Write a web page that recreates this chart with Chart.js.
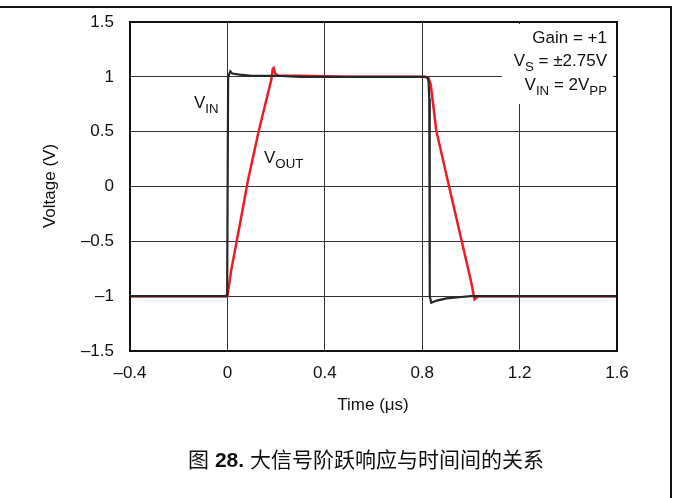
<!DOCTYPE html>
<html>
<head>
<meta charset="utf-8">
<script src="https://cdn.jsdelivr.net/npm/chart.js@4.4.0/dist/chart.umd.min.js"></script>
<style>
  body { margin: 0; background: #fff; }
  #wrap { width: 673px; height: 498px; }
</style>
</head>
<body>
<div id="wrap"><canvas id="stepChart" width="673" height="498"></canvas></div>
<script>
// time in us, voltage in V
const vinTime = [-0.4, -0.2, -0.005, -0.001, 0.003, 0.012, 0.02, 0.05, 0.1, 0.2, 0.3, 0.4, 0.5, 0.6, 0.7, 0.8, 0.815, 0.822, 0.826, 0.829, 0.831, 0.837, 0.86, 0.9, 0.95, 1.0, 1.2, 1.4, 1.6];
const vinVolt = [-1.0, -1.0, -1.0, -0.98, 1.0, 1.05, 1.03, 1.02, 1.01, 1.01, 1.0, 1.0, 1.0, 1.0, 1.0, 1.0, 1.0, 0.99, 0.96, 0.8, -1.0, -1.06, -1.04, -1.02, -1.01, -1.0, -1.0, -1.0, -1.0];

const voutTime = [-0.4, -0.2, 0.0, 0.016, 0.05, 0.084, 0.128, 0.18, 0.186, 0.19, 0.196, 0.21, 0.3, 0.5, 0.7, 0.81, 0.826, 0.835, 0.845, 0.857, 0.9, 0.95, 1.0, 1.015, 1.03, 1.1, 1.3, 1.6];
const voutVolt = [-1.0, -1.0, -1.0, -0.76, -0.36, 0.05, 0.5, 0.97, 1.07, 1.08, 1.03, 1.01, 1.01, 1.0, 1.0, 1.0, 0.99, 0.93, 0.75, 0.52, 0.1, -0.38, -0.86, -1.03, -1.0, -1.0, -1.0, -1.0];

const xTicks = [-0.4, 0, 0.4, 0.8, 1.2, 1.6];
const yTicks = [-1.5, -1, -0.5, 0, 0.5, 1, 1.5];

const notes = [
  [["Gain = +1", false]],
  [["V", false], ["S", true], [" = \u00b12.75V", false]],
  [["V", false], ["IN", true], [" = 2V", false], ["PP", true]]
];

function toPoints(xs, ys) {
  return xs.map((x, i) => ({ x: x, y: ys[i] }));
}

function fmt(v) {
  let s = String(v);
  return s.replace("-", "\u2013");
}

const FONT = "'Liberation Sans', Arial, sans-serif";

// draw text with subscripts; align 'left' or 'right' at x
function drawSub(ctx, parts, x, y, size, align) {
  let total = 0;
  parts.forEach(p => {
    ctx.font = (p[1] ? size * 0.78 : size) + "px " + FONT;
    total += ctx.measureText(p[0]).width;
  });
  let cx = align === "right" ? x - total : x;
  ctx.textAlign = "left";
  ctx.textBaseline = "alphabetic";
  parts.forEach(p => {
    ctx.font = (p[1] ? size * 0.78 : size) + "px " + FONT;
    ctx.fillText(p[0], cx, p[1] ? y + 5 : y);
    cx += ctx.measureText(p[0]).width;
  });
}

const extras = {
  id: "extras",
  afterDraw(chart) {
    const ctx = chart.ctx;
    const a = chart.chartArea;
    ctx.save();

    // notes box
    ctx.fillStyle = "#fff";
    ctx.fillRect(502, 24, 111, 80);

    // plot border
    ctx.strokeStyle = "#111";
    ctx.lineWidth = 2;
    ctx.strokeRect(a.left, a.top, a.right - a.left, a.bottom - a.top);

    // page frame
    ctx.beginPath();
    ctx.moveTo(0, 7);
    ctx.lineTo(671, 7);
    ctx.lineTo(671, 498);
    ctx.stroke();

    ctx.fillStyle = "#111";
    drawSub(ctx, notes[0], 607, 43, 17, "right");
    drawSub(ctx, notes[1], 607, 66, 17, "right");
    drawSub(ctx, notes[2], 607, 90, 17, "right");

    // trace labels
    drawSub(ctx, [["V", false], ["IN", true]], 194, 108, 17, "left");
    drawSub(ctx, [["V", false], ["OUT", true]], 264, 163, 17, "left");

    // axis titles
    ctx.font = "17px " + FONT;
    ctx.textAlign = "center";
    ctx.textBaseline = "middle";
    ctx.fillText("Time (\u03bcs)", 373, 405);
    ctx.save();
    ctx.translate(50, 186);
    ctx.rotate(-Math.PI / 2);
    ctx.fillText("Voltage (V)", 0, 0);
    ctx.restore();

    // caption
    const cap = [["图 ", "normal"], ["28.", "bold"], [" 大信号阶跃响应与时间间的关系", "normal"]];
    const capFont = w => w + " 21px 'Liberation Sans', 'Noto Sans CJK SC', sans-serif";
    let tw = 0;
    cap.forEach(c => { ctx.font = capFont(c[1]); tw += ctx.measureText(c[0]).width; });
    let cx = 366 - tw / 2;
    ctx.textAlign = "left";
    ctx.textBaseline = "middle";
    cap.forEach(c => {
      ctx.font = capFont(c[1]);
      ctx.fillText(c[0], cx, 461);
      cx += ctx.measureText(c[0]).width;
    });

    ctx.restore();
  }
};

new Chart(document.getElementById("stepChart"), {
  type: "scatter",
  data: {
    datasets: [
      {
        label: "VIN",
        data: toPoints(vinTime, vinVolt),
        showLine: true,
        borderColor: "#262626",
        borderWidth: 2.2,
        pointRadius: 0,
        tension: 0,
        order: 0
      },
      {
        label: "VOUT",
        data: toPoints(voutTime, voutVolt),
        showLine: true,
        borderColor: "#ec1c24",
        borderWidth: 2.5,
        pointRadius: 0,
        tension: 0,
        order: 1
      }
    ]
  },
  options: {
    responsive: false,
    animation: false,
    layout: { padding: { top: 22, right: 56, left: 0, bottom: 0 } },
    plugins: {
      legend: { display: false },
      tooltip: { enabled: false }
    },
    scales: {
      x: {
        type: "linear",
        min: -0.4,
        max: 1.6,
        afterFit: s => { s.height = 147; s.paddingLeft = 0; s.paddingRight = 0; },
        afterBuildTicks: s => { s.ticks = xTicks.map(v => ({ value: v })); },
        border: { display: false },
        grid: { color: "#333", lineWidth: 1, drawTicks: false },
        ticks: {
          padding: 12,
          color: "#111",
          font: { family: FONT, size: 17 },
          callback: v => fmt(v)
        }
      },
      y: {
        min: -1.5,
        max: 1.5,
        afterFit: s => { s.width = 130; s.paddingTop = 0; s.paddingBottom = 0; },
        afterBuildTicks: s => { s.ticks = yTicks.map(v => ({ value: v })); },
        border: { display: false },
        grid: { color: "#333", lineWidth: 1, drawTicks: false },
        ticks: {
          padding: 16,
          color: "#111",
          font: { family: FONT, size: 17 },
          callback: v => fmt(v)
        }
      }
    }
  },
  plugins: [extras]
});
</script>
</body>
</html>
